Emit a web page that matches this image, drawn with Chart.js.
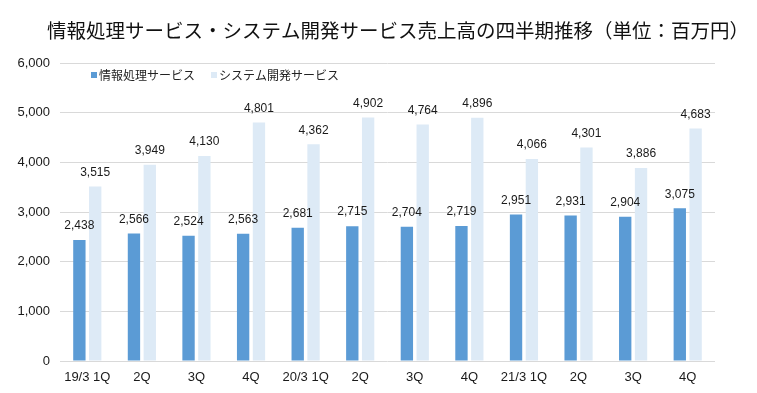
<!DOCTYPE html>
<html>
<head>
<meta charset="utf-8">
<script src="https://cdn.jsdelivr.net/npm/chart.js@4/dist/chart.umd.min.js"></script>
<style>
  html, body { margin: 0; padding: 0; background: #fff; }
  #wrap { width: 757px; height: 393px; position: relative; }
</style>
</head>
<body>
<div id="wrap"><canvas id="chart" width="757" height="393"></canvas></div>
<script>
/* =============================
   DATA
============================= */
const chartTitle = "情報処理サービス・システム開発サービス売上高の四半期推移（単位：百万円）";
const quarters = ["19/3 1Q", "2Q", "3Q", "4Q", "20/3 1Q", "2Q", "3Q", "4Q", "21/3 1Q", "2Q", "3Q", "4Q"];
const seriesNames = ["情報処理サービス", "システム開発サービス"];
const infoService = [2438, 2566, 2524, 2563, 2681, 2715, 2704, 2719, 2951, 2931, 2904, 3075];
const sysDevService = [3515, 3949, 4130, 4801, 4362, 4902, 4764, 4896, 4066, 4301, 3886, 4683];
const yMax = 6000;
const yStep = 1000;

/* =============================
   PLUGINS
============================= */
const jpFont = '"Noto Sans CJK JP", "Noto Sans", sans-serif';
const numFont = '"Liberation Sans", Arial, sans-serif';

// title + legend drawn on top
const headerPlugin = {
    id: "header",
    afterDraw(chart) {
        const ctx = chart.ctx;
        ctx.save();
        ctx.fillStyle = "#111";
        ctx.font = "19.5px " + jpFont;
        ctx.textAlign = "center";
        ctx.textBaseline = "middle";
        ctx.fillText(chartTitle, 398, 31);

        // legend
        const xs = [91, 211];
        ctx.font = "12px " + jpFont;
        ctx.textAlign = "left";
        chart.data.datasets.forEach((ds, i) => {
            ctx.fillStyle = ds.backgroundColor;
            ctx.fillRect(xs[i], 72, 6, 6);
            ctx.fillStyle = "#222";
            ctx.fillText(ds.label, xs[i] + 8, 75.5);
        });
        ctx.restore();
    }
};

// value labels above bars
const valuePlugin = {
    id: "values",
    afterDatasetsDraw(chart) {
        const ctx = chart.ctx;
        ctx.save();
        ctx.font = "12px " + numFont;
        ctx.fillStyle = "#1a1a1a";
        ctx.textAlign = "center";
        ctx.textBaseline = "middle";
        chart.data.datasets.forEach((ds, i) => {
            chart.getDatasetMeta(i).data.forEach((bar, j) => {
                ctx.fillText(ds.data[j].toLocaleString("en-US"), bar.x, bar.y - 14);
            });
        });
        ctx.restore();
    }
};

/* =============================
   CHART
============================= */
new Chart(document.getElementById("chart"), {
    type: "bar",
    data: {
        labels: quarters,
        datasets: [
            {
                label: seriesNames[0],
                data: infoService,
                backgroundColor: "#5b9bd5",
                categoryPercentage: 0.58,
                barPercentage: 0.78
            },
            {
                label: seriesNames[1],
                data: sysDevService,
                backgroundColor: "#ddeaf6",
                categoryPercentage: 0.58,
                barPercentage: 0.78
            }
        ]
    },
    options: {
        responsive: false,
        animation: false,
        layout: { padding: { top: 63, right: 42, bottom: 0, left: 0 } },
        plugins: {
            legend: { display: false },
            title: { display: false },
            tooltip: { enabled: false }
        },
        scales: {
            x: {
                grid: { display: false, drawTicks: false },
                border: { display: false },
                ticks: {
                    color: "#1a1a1a",
                    font: { family: numFont, size: 13 },
                    padding: 9,
                    maxRotation: 0,
                    autoSkip: false
                },
                afterFit: s => { s.height = 32; }
            },
            y: {
                min: 0,
                max: yMax,
                grid: { color: "#d9d9d9", lineWidth: 1, drawTicks: false },
                border: { display: false },
                ticks: {
                    stepSize: yStep,
                    color: "#1a1a1a",
                    font: { family: numFont, size: 13 },
                    padding: 10,
                    callback: v => v.toLocaleString("en-US")
                },
                afterFit: s => { s.width = 60; }
            }
        }
    },
    plugins: [headerPlugin, valuePlugin]
});
</script>
</body>
</html>
